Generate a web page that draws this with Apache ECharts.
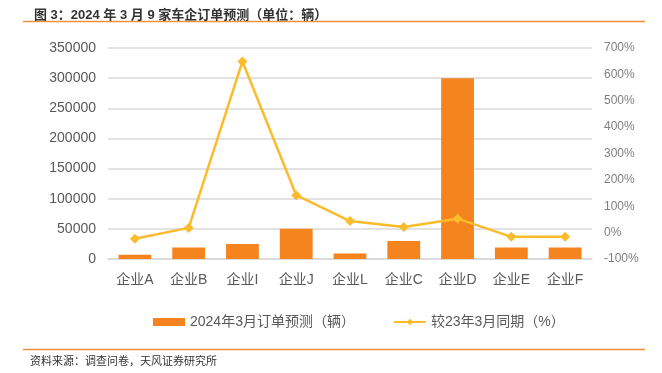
<!DOCTYPE html>
<html><head><meta charset="utf-8">
<script src="https://cdn.jsdelivr.net/npm/echarts@6/dist/echarts.min.js"></script>
<style>html,body{margin:0;padding:0;background:#fff}#c{width:662px;height:373px}</style>
</head><body><div id="c"></div>
<script>
var categories = ['企业A','企业B','企业I','企业J','企业L','企业C','企业D','企业E','企业F'];
var orders = [7000, 19000, 25000, 50000, 9000, 30000, 300000, 19000, 19000];
var yoy = [-0.23, 0.18, 6.49, 1.42, 0.44, 0.21, 0.53, -0.16, -0.16];
var seriesNames = ['2024年3月订单预测（辆）', '较23年3月同期（%）'];
var titleText = '图 3：2024 年 3 月 9 家车企订单预测（单位：辆）';
var sourceText = '资料来源：调查问卷，天风证券研究所';

var FONT = '"Liberation Sans", "Noto Sans CJK SC", sans-serif';
var chart = echarts.init(document.getElementById('c'));
chart.setOption({
  animation: false,
  textStyle: {fontFamily: FONT},
  title: {
    text: titleText, left: 29, top: 4,
    textStyle: {fontSize: 13, fontWeight: 'bold', color: '#333', fontFamily: FONT}
  },
  graphic: [
    {type: 'line', shape: {x1: 23, y1: 21.5, x2: 645, y2: 21.5}, style: {stroke: '#F0913A', lineWidth: 1.5}},
    {type: 'line', shape: {x1: 23, y1: 349.5, x2: 645, y2: 349.5}, style: {stroke: '#F0913A', lineWidth: 1.5}},
    {type: 'text', left: 30, top: 356, style: {text: sourceText, fontSize: 11, fill: '#333', fontFamily: FONT}}
  ],
  legend: {
    top: 310, left: 148,
    itemGap: 38, itemWidth: 32, itemHeight: 8,
    textStyle: {fontSize: 14, color: '#595959'},
    data: [
      {name: seriesNames[0], icon: 'rect'},
      {name: seriesNames[1]}
    ]
  },
  grid: {left: 108, right: 70, top: 48, bottom: 114},
  xAxis: {
    type: 'category', data: categories,
    axisLine: {show: true, lineStyle: {color: '#D9D9D9', width: 1.5}},
    axisTick: {show: false},
    axisLabel: {fontSize: 14, color: '#595959', margin: 14}
  },
  yAxis: [
    {
      type: 'value', min: 0, max: 350000, interval: 50000,
      axisLine: {show: false}, axisTick: {show: false},
      splitLine: {lineStyle: {color: '#D9D9D9', width: 1.5}},
      axisLabel: {fontSize: 14, color: '#595959', margin: 12,
        formatter: function (v) { return String(v); }}
    },
    {
      type: 'value', min: -1, max: 7, interval: 1,
      axisLine: {show: false}, axisTick: {show: false},
      splitLine: {show: false},
      axisLabel: {fontSize: 12, color: '#7F7F7F', margin: 12,
        formatter: function (v) { return Math.round(v * 100) + '%'; }}
    }
  ],
  series: [
    {
      name: seriesNames[0], type: 'bar', data: orders, barWidth: '61%',
      itemStyle: {color: '#F5841F'}
    },
    {
      name: seriesNames[1], type: 'line', yAxisIndex: 1, data: yoy,
      symbol: 'diamond', symbolSize: 10,
      lineStyle: {color: '#FBBB2B', width: 2.5},
      itemStyle: {color: '#FBBB2B'}
    }
  ]
});
</script></body></html>
